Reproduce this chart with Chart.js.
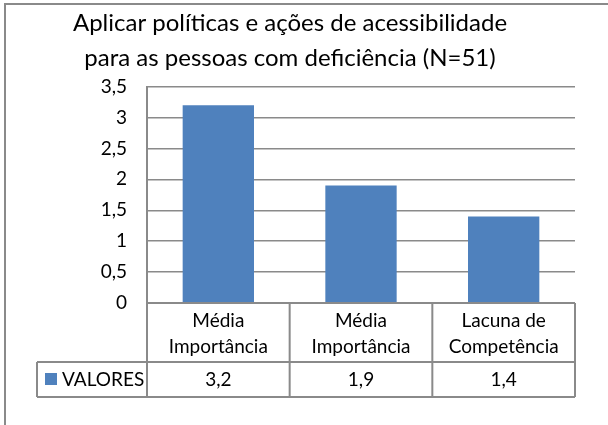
<!DOCTYPE html>
<html>
<head>
<meta charset="utf-8">
<script src="https://cdn.jsdelivr.net/npm/chart.js@4"></script>
<style>
  body { margin: 0; background: #fff; }
</style>
</head>
<body>
<canvas id="myChart" width="608" height="425"></canvas>
<script>
// data
var titleLines = ["Aplicar políticas e ações de acessibilidade", "para as pessoas com deficiência (N=51)"];
var categories = [["Média", "Importância"], ["Média", "Importância"], ["Lacuna de", "Competência"]];
var seriesName = "VALORES";
var valores = [3.2, 1.9, 1.4];
var yMax = 3.5;
var yStep = 0.5;

var FONT = "Lato";
var GRID = "#8a8a8a";
var BLUE = "#4f81bd";

function fmt(v) {
  return String(v).replace(".", ",");
}

// outer frame (only left/top show in the crop)
var framePlugin = {
  id: "frame",
  beforeDraw: function (chart) {
    var ctx = chart.ctx;
    ctx.save();
    ctx.fillStyle = "#fff";
    ctx.fillRect(0, 0, chart.width, chart.height);
    ctx.strokeStyle = "#8a8a8a";
    ctx.lineWidth = 2;
    ctx.strokeRect(5, 4, chart.width + 20, chart.height + 20);
    ctx.restore();
  }
};

// data table under the plot
var tablePlugin = {
  id: "dataTable",
  afterDraw: function (chart) {
    var ctx = chart.ctx;
    var area = chart.chartArea;
    var xs = chart.scales.x;
    var n = categories.length;
    var w = (area.right - area.left) / n;
    var top = area.bottom;
    var mid = top + 59;
    var bot = top + 94;
    var legLeft = 37;

    ctx.save();
    ctx.strokeStyle = GRID;
    ctx.lineWidth = 2;
    ctx.beginPath();
    ctx.moveTo(area.left, top); ctx.lineTo(area.right, top);
    ctx.moveTo(legLeft, mid); ctx.lineTo(area.right, mid);
    ctx.moveTo(legLeft, bot); ctx.lineTo(area.right, bot);
    ctx.moveTo(legLeft, mid); ctx.lineTo(legLeft, bot);
    for (var i = 0; i <= n; i++) {
      var px = area.left + i * w;
      ctx.moveTo(px, top); ctx.lineTo(px, bot);
    }
    ctx.stroke();

    ctx.fillStyle = "#000";
    ctx.font = "19px " + FONT;
    ctx.textAlign = "center";
    ctx.textBaseline = "middle";
    for (var j = 0; j < n; j++) {
      var cx = xs.getPixelForValue(j);
      ctx.fillText(categories[j][0], cx, top + 18);
      ctx.fillText(categories[j][1], cx, top + 44);
      ctx.fillText(fmt(valores[j]), cx, mid + 18);
    }

    // legend key
    ctx.fillStyle = BLUE;
    ctx.fillRect(45, mid + 11, 12, 12);
    ctx.fillStyle = "#000";
    ctx.textAlign = "left";
    ctx.fillText(seriesName, 62, mid + 18);
    ctx.restore();
  }
};

var ctx = document.getElementById("myChart").getContext("2d");
var myChart = new Chart(ctx, {
  type: "bar",
  data: {
    labels: categories,
    datasets: [
      {
        label: seriesName,
        data: valores,
        backgroundColor: BLUE,
        borderWidth: 0,
        barPercentage: 0.5,
        categoryPercentage: 1
      }
    ]
  },
  options: {
    responsive: false,
    animation: false,
    layout: { padding: { left: 5, right: 33, top: 0, bottom: 28 } },
    plugins: {
      legend: { display: false },
      tooltip: { enabled: false },
      title: {
        display: true,
        text: titleLines,
        color: "#000",
        font: { family: FONT, size: 24, weight: "normal", lineHeight: 1.45 },
        padding: { top: 6, bottom: 11 }
      }
    },
    scales: {
      x: {
        ticks: { display: false },
        grid: { display: false },
        border: { display: false },
        afterFit: function (s) { s.height = 94; }
      },
      y: {
        min: 0,
        max: yMax,
        ticks: {
          stepSize: yStep,
          color: "#000",
          padding: 20,
          font: { family: FONT, size: 19 },
          callback: function (v) { return fmt(v); }
        },
        grid: { color: GRID, lineWidth: 1.5, drawTicks: false },
        border: { display: true, color: GRID, width: 2 },
        afterFit: function (s) { s.width = 142; }
      }
    }
  },
  plugins: [framePlugin, tablePlugin]
});
</script>
</body>
</html>
